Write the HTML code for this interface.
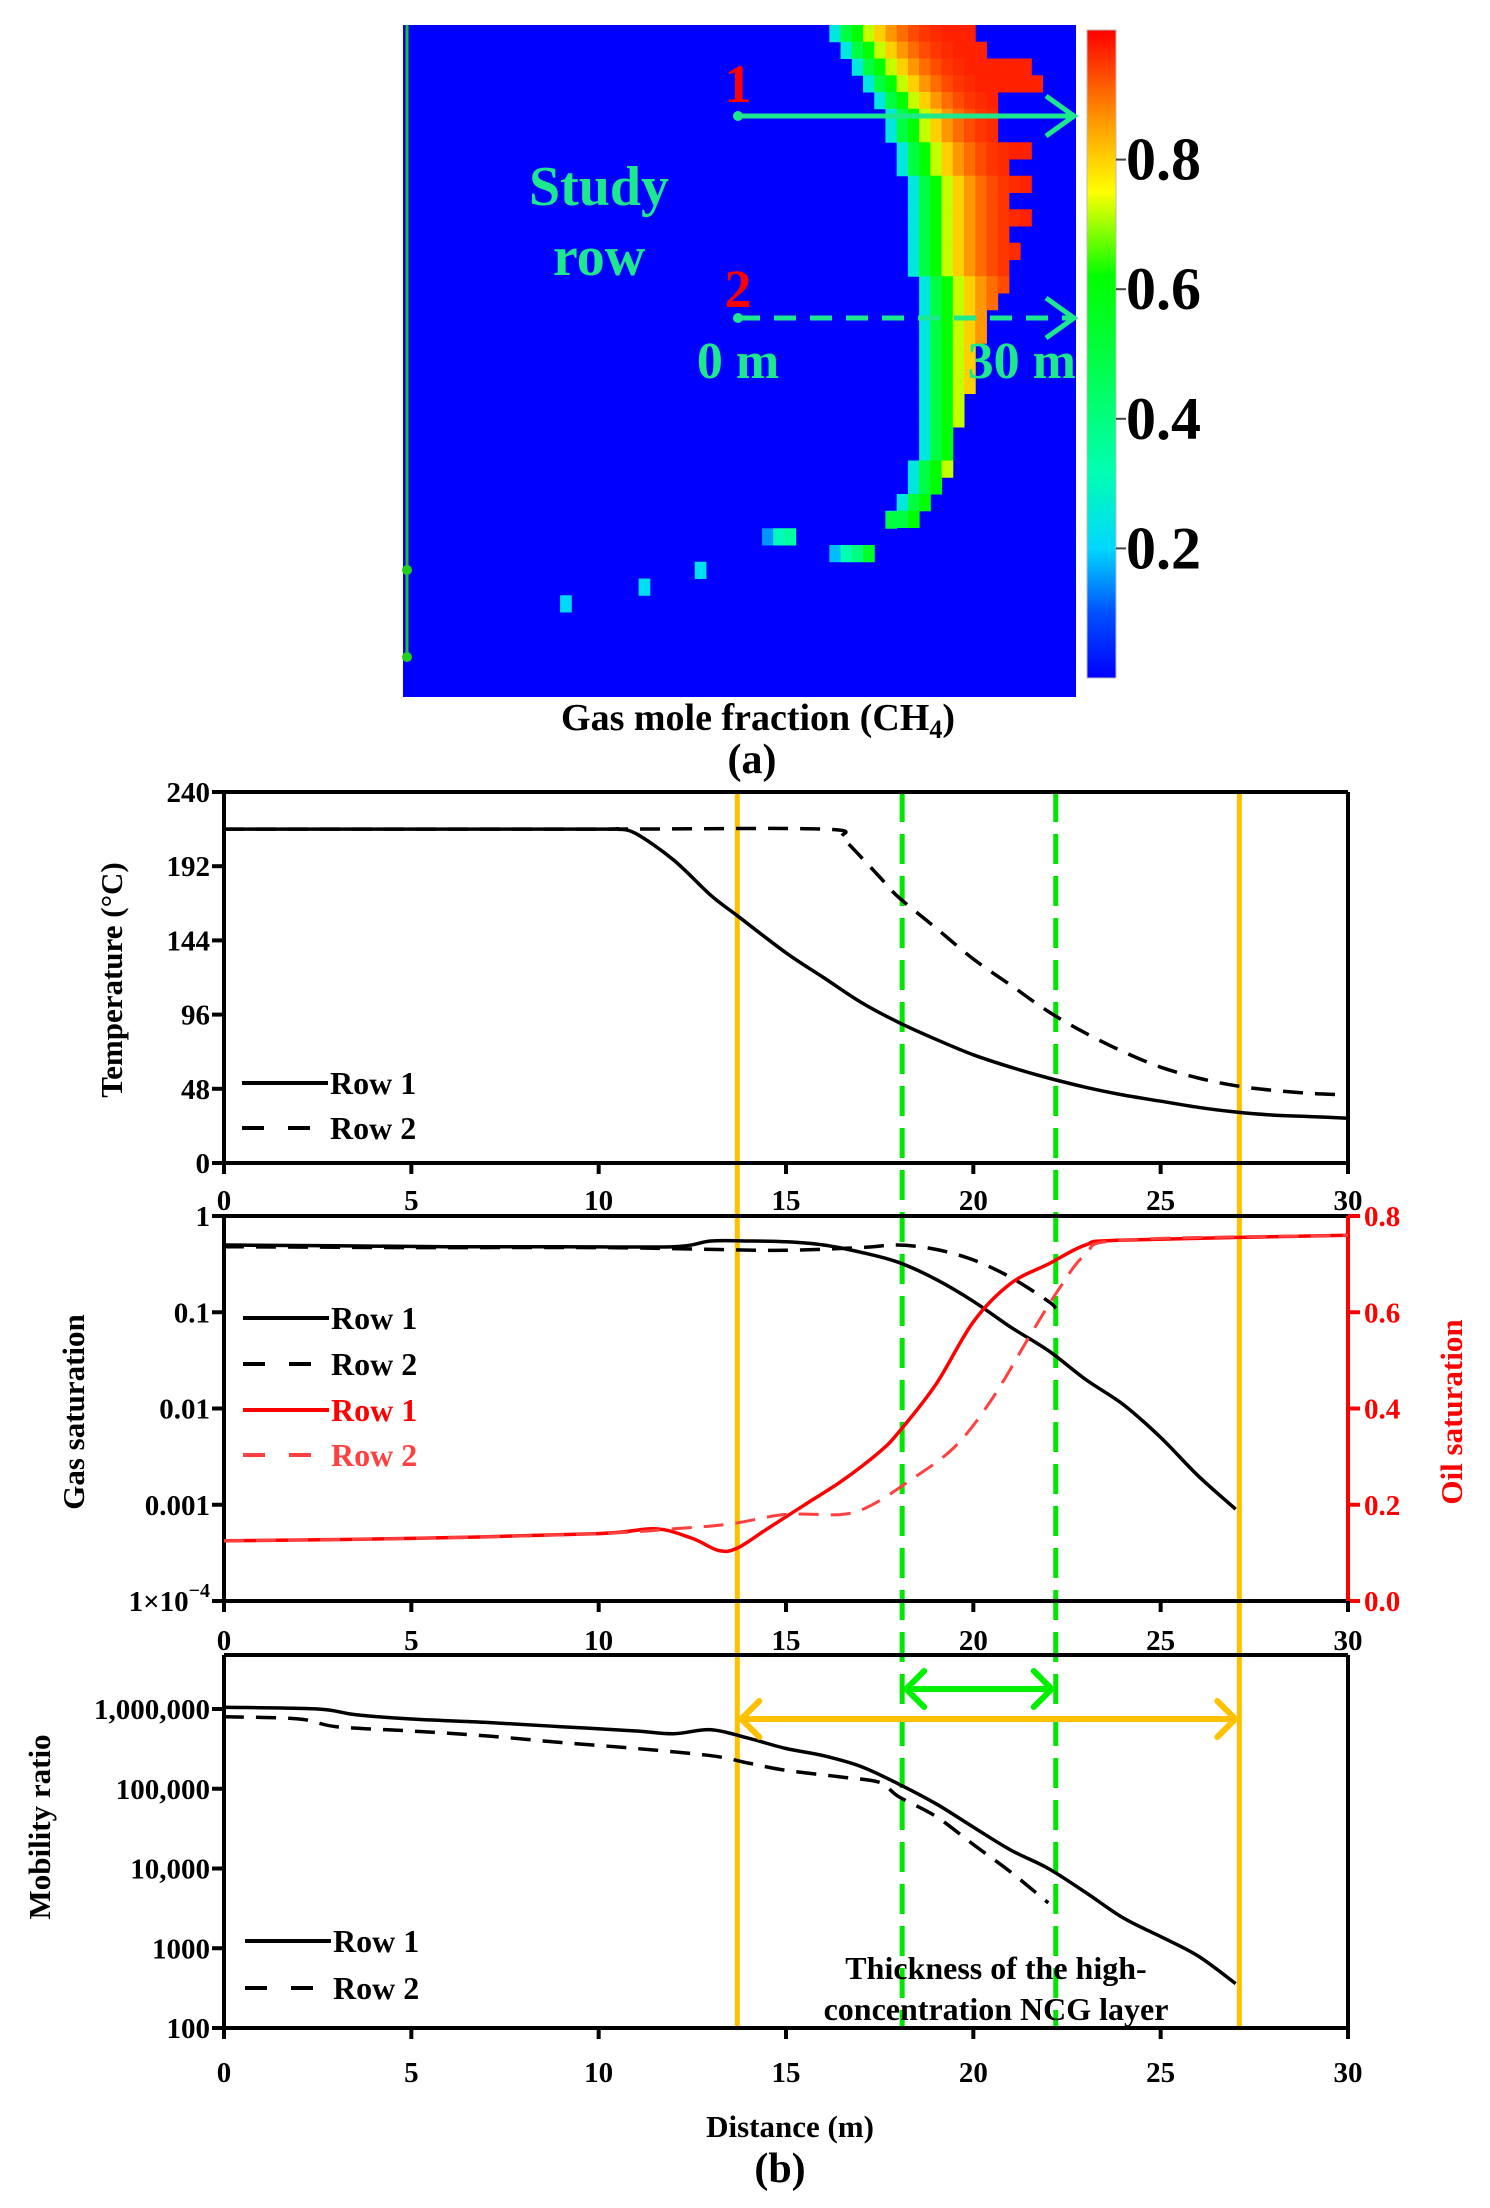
<!DOCTYPE html>
<html><head><meta charset="utf-8"><style>
html,body{margin:0;padding:0;background:#fff;}
svg{display:block;font-family:"Liberation Serif",serif;}
</style></head><body>
<svg id="fig" width="1490" height="2208" viewBox="0 0 1490 2208" xmlns="http://www.w3.org/2000/svg">
<defs>
<linearGradient id="jet" x1="0" y1="1" x2="0" y2="0">
<stop offset="0" stop-color="#0000ff"/><stop offset="0.1" stop-color="#0050ff"/><stop offset="0.2" stop-color="#00d8ff"/><stop offset="0.32" stop-color="#00ffb0"/><stop offset="0.5" stop-color="#00ff40"/><stop offset="0.62" stop-color="#00ff00"/><stop offset="0.75" stop-color="#ffff00"/><stop offset="0.86" stop-color="#ff9800"/><stop offset="1" stop-color="#ff0000"/>
</linearGradient>
</defs>
<g id="panelA"></g>
<g id="panelB"></g>
</svg>
<script>
const NS="http://www.w3.org/2000/svg";
function mk(parent,tag,attrs,text){const e=document.createElementNS(NS,tag);for(const k in attrs)e.setAttribute(k,attrs[k]);if(text!==undefined)e.textContent=text;parent.appendChild(e);return e;}

// ---------- Panel (a) data ----------
const plumeLeft=[825,836,848,859,869,880,881,892,893,903,903,903,912,912,912,921,924,924,924,924,924,924,924,924,924,924,912,912,901,890];
const plumeRight=[977,990,1034,1045,1000,1000,1000,1034,1011,1034,1011,1034,1011,1022,1011,1011,1000,988,988,977,977,977,966,966,955,955,955,943,935,924];
const cellVals=[0.25,0.5,0.62,0.72,0.8,0.86,0.9,0.93,0.95,0.96,0.97];
const scatterRow=[30,31,31,31,32,32,32,32,33,34,35];
const scatterX=[888,766,778,789,833,844,855,866,700,634,556];
const scatterV=[0.5,0.15,0.3,0.35,0.18,0.32,0.4,0.55,0.22,0.22,0.2];
const cbTicks=[0.2,0.4,0.6,0.8];

function jet(v){
  const st=[[0,[0,0,255]],[0.1,[0,80,255]],[0.2,[0,216,255]],[0.32,[0,255,176]],[0.5,[0,255,64]],[0.62,[0,255,0]],[0.75,[255,255,0]],[0.86,[255,152,0]],[1,[255,0,0]]];
  for(let i=1;i<st.length;i++){if(v<=st[i][0]){const a=st[i-1],b=st[i],t=(v-a[0])/(b[0]-a[0]);return 'rgb('+a[1].map((c,j)=>Math.round(c+(b[1][j]-c)*t)).join(',')+')';}}
  return 'rgb(255,0,0)';
}
(function(){
  const g=document.getElementById('panelA');
  const HX=403,HY=25,HW=673,HH=672,CW=11.22,RH=16.75;
  const bg=mk(g,'rect',{x:HX,y:HY,width:HW,height:HH,fill:'#0000ff'});
  
  
  plumeLeft.forEach((L,r)=>{
    const c0=Math.round((L-HX)/CW),c1=Math.round((plumeRight[r]-HX)/CW);
    for(let c=c0;c<c1;c++){
      const k=Math.min(c-c0,cellVals.length-1);
      const cell=mk(g,'rect',{x:HX+c*CW,y:HY+r*RH,width:CW+0.5,height:RH+0.5,fill:jet(cellVals[k])});
      
      
    }
  });
  scatterRow.forEach((r,i)=>{
    const c=Math.round((scatterX[i]-HX)/CW);
    const cell=mk(g,'rect',{x:HX+c*CW,y:HY+r*RH-16,width:CW+0.5,height:RH+0.5,fill:jet(scatterV[i])});
    
    
  });
  const mint='#1ee88e';
  const sl=mk(g,'line',{x1:407,y1:25,x2:407,y2:657,stroke:'#22c01a','stroke-width':3});
  
  
  [570,657].forEach(y=>{const d=mk(g,'circle',{cx:407,cy:y,r:5,fill:'#22d01a'});});
  [[116,null,'row-1-arrow'],[318,'22 14','row-2-arrow']].forEach(a=>{
    const ln=mk(g,'line',{x1:738,y1:a[0],x2:1072,y2:a[0],stroke:mint,'stroke-width':5});
    if(a[1])ln.setAttribute('stroke-dasharray',a[1]);
    
    
    mk(g,'polyline',{points:`1046,${a[0]-20} 1074,${a[0]} 1046,${a[0]+20}`,fill:'none',stroke:mint,'stroke-width':5});
    mk(g,'circle',{cx:738,cy:a[0],r:5,fill:mint});
  });
  const t1=mk(g,'text',{x:738,y:102,'text-anchor':'middle','font-size':54,'font-weight':'bold',fill:'#ff0000'},'1');
  
  const t2=mk(g,'text',{x:738,y:307,'text-anchor':'middle','font-size':54,'font-weight':'bold',fill:'#ff0000'},'2');
  
  const s1=mk(g,'text',{x:599,y:205,'text-anchor':'middle','font-size':56,'font-weight':'bold',fill:mint},'Study');
  
  const s2=mk(g,'text',{x:599,y:275,'text-anchor':'middle','font-size':56,'font-weight':'bold',fill:mint},'row');
  
  const m0=mk(g,'text',{x:738,y:378,'text-anchor':'middle','font-size':52,'font-weight':'bold',fill:mint},'0 m');
  
  const m30=mk(g,'text',{x:1076,y:378,'text-anchor':'end','font-size':52,'font-weight':'bold',fill:mint},'30 m');
  
  const cb=mk(g,'rect',{x:1087,y:30,width:29,height:648,fill:'url(#jet)',stroke:'#bbb','stroke-width':1});
  
  cbTicks.forEach(v=>{
    const y=678-v*648;
    mk(g,'line',{x1:1116,y1:y,x2:1126,y2:y,stroke:'#444','stroke-width':2});
    const t=mk(g,'text',{x:1126,y:y+20,'font-size':60,'font-weight':'bold',fill:'#000'},v.toFixed(1));
    
  });
  const ttl=mk(g,'text',{x:758,y:730,'text-anchor':'middle','font-size':38,'font-weight':'bold',fill:'#000'});
  
  ttl.appendChild(document.createTextNode('Gas mole fraction (CH'));
  mk(ttl,'tspan',{'font-size':26,dy:8},'4');
  mk(ttl,'tspan',{dy:-8},')');
  const la=mk(g,'text',{x:752,y:773,'text-anchor':'middle','font-size':42,'font-weight':'bold',fill:'#000'},'(a)');
  
})();

// ---------- Panel (b) data ----------
const xTicks=[0,5,10,15,20,25,30];
const tempTicks=[0,48,96,144,192,240];
const tempX1=[0,5,10,10.5,11,12,13,13.7,15,16,17,18,19,20,21,22,23,24,25,26,27,28,29,30];
const tempY1=[216,216,216,216,213,196,173,160,136,120,104,91,80,70,62,55,49,44,40,36,33,31,30,29];
const tempX2=[0,10,16,16.5,17,17.5,18,19,20,21,22,23,24,25,26,27,28,29,30];
const tempY2=[216,216,216,210,198,185,172,152,132,115,98,84,72,62,55,50,47,45,44];
const gasTicks=[1,0.1,0.01,0.001,0.0001];
const gasX1=[0,3,6,9,12,13,14,15,16,17,18,19,20,21,22,23,24,25,26,27];
const gasY1=[0.5,0.49,0.48,0.48,0.48,0.55,0.55,0.54,0.5,0.42,0.33,0.22,0.13,0.07,0.04,0.02,0.011,0.005,0.002,0.0009];
const gasX2=[0,5,10,13,15,17,18,19,20,21,22,22.2];
const gasY2=[0.48,0.47,0.47,0.45,0.44,0.47,0.5,0.45,0.35,0.23,0.13,0.11];
const oilTicks=[0,0.2,0.4,0.6,0.8];
const oilX1=[0,5,10,11.5,12.5,13.2,13.7,14.5,15.5,16.5,17.5,18,19,20,21,22,23,24,30];
const oilY1=[0.125,0.13,0.14,0.15,0.13,0.105,0.11,0.15,0.2,0.25,0.31,0.35,0.45,0.58,0.66,0.7,0.74,0.75,0.76];
const oilX2=[0,5,10,12,13.5,15,16.5,17.3,18.3,19.5,20.5,21.5,22.3,23,24,30];
const oilY2=[0.125,0.13,0.14,0.15,0.16,0.18,0.18,0.2,0.25,0.32,0.42,0.55,0.65,0.72,0.75,0.76];
const mobTicks=[100,1000,10000,100000,1000000];
const mobTickLabels=['100','1000','10,000','100,000','1,000,000'];
const mobX1=[0,2.5,3.5,5,7,9,11,12,13,14,15,16,17,18,19,20,21,22,23,24,25,26,27];
const mobY1=[1.05e6,1e6,8.5e5,7.5e5,6.8e5,6e5,5.3e5,4.9e5,5.5e5,4.3e5,3.2e5,2.6e5,1.9e5,1.15e5,6.5e4,3.3e4,1.7e4,1e4,5e3,2.4e3,1.4e3,8e2,3.6e2];
const mobX2=[0,2,3,5,7,9,11,13,14,15,16.5,17.5,18,19,20,21,22];
const mobY2=[8e5,7.5e5,6e5,5.3e5,4.6e5,3.8e5,3.2e5,2.6e5,2.1e5,1.7e5,1.4e5,1.2e5,8e4,4.5e4,2e4,9e3,3.7e3];
const orangeMarks=[13.7,27.1];
const greenMarks=[18.1,22.2];

(function(){
  const g=document.getElementById('panelB');
  const X0=224,X1=1348;
  const sx=x=>X0+(X1-X0)*x/30;
  const T={top:792,bot:1163};const yT=v=>T.bot-(T.bot-T.top)*v/240;
  const M={top:1216,bot:1601};const yG=v=>M.bot-(M.bot-M.top)*(Math.log10(v)+4)/4;const yO=v=>M.bot-(M.bot-M.top)*v/0.8;
  const B={top:1655,bot:2028};const yM=v=>B.bot-(Math.log10(v)-2)*79.75;
  const pathOf=(xs,ys,fy)=>{
    const p=xs.map((x,i)=>[sx(x),fy(ys[i])]);
    let d='M'+p[0][0].toFixed(1)+','+p[0][1].toFixed(1);
    for(let i=0;i<p.length-1;i++){
      const p0=p[Math.max(0,i-1)],p1=p[i],p2=p[i+1],p3=p[Math.min(p.length-1,i+2)];
      const c1x=p1[0]+(p2[0]-p0[0])/6,c1y=p1[1]+(p2[1]-p0[1])/6;
      const c2x=p2[0]-(p3[0]-p1[0])/6,c2y=p2[1]-(p3[1]-p1[1])/6;
      d+=` C${c1x.toFixed(1)},${c1y.toFixed(1)} ${c2x.toFixed(1)},${c2y.toFixed(1)} ${p2[0].toFixed(1)},${p2[1].toFixed(1)}`;
    }
    return d;
  };

  orangeMarks.forEach(x=>{const l=mk(g,'line',{x1:sx(x),y1:T.top,x2:sx(x),y2:B.bot,stroke:'#ffc000','stroke-width':5});});
  greenMarks.forEach(x=>{const l=mk(g,'line',{x1:sx(x),y1:T.top,x2:sx(x),y2:B.bot,stroke:'#00e600','stroke-width':5,'stroke-dasharray':'30 12'});});

  function frame(top,bot,right){
    mk(g,'line',{x1:X0,y1:top,x2:X1,y2:top,stroke:'#000','stroke-width':4});
    mk(g,'line',{x1:X0,y1:bot,x2:X1,y2:bot,stroke:'#000','stroke-width':4});
    mk(g,'line',{x1:X0,y1:top,x2:X0,y2:bot,stroke:'#000','stroke-width':4});
    if(right)mk(g,'line',{x1:X1,y1:top,x2:X1,y2:bot,stroke:right,'stroke-width':4});
  }
  function xAxis(bot,labY){
    xTicks.forEach(v=>{
      mk(g,'line',{x1:sx(v),y1:bot,x2:sx(v),y2:bot+11,stroke:'#000','stroke-width':4});
      const t=mk(g,'text',{x:sx(v),y:labY,'text-anchor':'middle','font-size':29,'font-weight':'bold',fill:'#000'},String(v));
      
    });
  }
  function yTick(y,label,name){
    mk(g,'line',{x1:X0-12,y1:y,x2:X0,y2:y,stroke:'#000','stroke-width':4});
    const t=mk(g,'text',{x:X0-14,y:y+10,'text-anchor':'end','font-size':29,'font-weight':'bold',fill:'#000'},label);
    
    return t;
  }
  function series(d,color,dash,w,name){
    const p=mk(g,'path',{d:d,fill:'none',stroke:color,'stroke-width':w||3.5,'stroke-linejoin':'round'});
    if(dash)p.setAttribute('stroke-dasharray',dash);
    
  }
  function legend(y,color,dash,label,x0,name){
    const l=mk(g,'line',{x1:x0,y1:y,x2:x0+86,y2:y,stroke:color,'stroke-width':4});
    if(dash)l.setAttribute('stroke-dasharray',dash);
    const t=mk(g,'text',{x:x0+88,y:y+11,'font-size':32,'font-weight':'bold',fill:color},label);
    
  }
  function yTitle(x,y,text,color,name){
    const t=mk(g,'text',{x:x,y:y,'text-anchor':'middle','font-size':31,'font-weight':'bold',fill:color,transform:`rotate(-90 ${x} ${y})`},text);
    
  }

  frame(T.top,T.bot,'#000');
  tempTicks.forEach(v=>yTick(yT(v),String(v),'temperature-tick-label'));
  xAxis(T.bot,1210);
  series(pathOf(tempX1,tempY1,yT),'#000',null,3.5,'temperature-row-1');
  series(pathOf(tempX2,tempY2,yT),'#000','20 12',3.5,'temperature-row-2');
  yTitle(122,980,'Temperature (°C)','#000','temperature-axis-title');
  legend(1083,'#000',null,'Row 1',242,'legend-temp-row-1');
  legend(1128,'#000','22 24','Row 2',242,'legend-temp-row-2');

  frame(M.top,M.bot,'#ff0000');
  gasTicks.forEach((v,i)=>{
    const lab=i<4?String(v):'';
    const t=yTick(yG(v),lab,'gas-saturation-tick-label');
    if(i===4){t.appendChild(document.createTextNode('1×10'));mk(t,'tspan',{'font-size':20,dy:-14},'−4');}
  });
  oilTicks.forEach(v=>{
    mk(g,'line',{x1:X1,y1:yO(v),x2:X1+12,y2:yO(v),stroke:'#ff0000','stroke-width':4});
    const t=mk(g,'text',{x:X1+16,y:yO(v)+10,'font-size':29,'font-weight':'bold',fill:'#ff0000'},v.toFixed(1));
    
  });
  xAxis(M.bot,1650);
  series(pathOf(gasX1,gasY1,yG),'#000',null,3.5,'gas-saturation-row-1');
  series(pathOf(gasX2,gasY2,yG),'#000','20 12',3.5,'gas-saturation-row-2');
  series(pathOf(oilX1,oilY1,yO),'#ff0000',null,3.5,'oil-saturation-row-1');
  series(pathOf(oilX2,oilY2,yO),'#ff4040','20 12',3,'oil-saturation-row-2');
  yTitle(84,1412,'Gas saturation','#000','gas-saturation-axis-title');
  yTitle(1462,1412,'Oil saturation','#ff0000','oil-saturation-axis-title');
  legend(1318,'#000',null,'Row 1',243,'legend-gas-row-1');
  legend(1364,'#000','22 24','Row 2',243,'legend-gas-row-2');
  legend(1410,'#ff0000',null,'Row 1',243,'legend-oil-row-1');
  legend(1455,'#ff4040','22 24','Row 2',243,'legend-oil-row-2');

  frame(B.top,B.bot,'#000');
  mobTicks.forEach((v,i)=>yTick(yM(v),mobTickLabels[i],'mobility-tick-label'));
  xAxis(B.bot,2082);
  series(pathOf(mobX1,mobY1,yM),'#000',null,3.5,'mobility-row-1');
  series(pathOf(mobX2,mobY2,yM),'#000','20 12',3.5,'mobility-row-2');
  yTitle(50,1827,'Mobility ratio','#000','mobility-axis-title');
  legend(1941,'#000',null,'Row 1',245,'legend-mob-row-1');
  legend(1988,'#000','22 24','Row 2',245,'legend-mob-row-2');

  function dArrow(xa,xb,y,color,name){
    const a=sx(xa)+4,b=sx(xb)-4;
    const l=mk(g,'line',{x1:a,y1:y,x2:b,y2:y,stroke:color,'stroke-width':6});
    
    mk(g,'polyline',{points:`${a+18},${y-18} ${a},${y} ${a+18},${y+18}`,fill:'none',stroke:color,'stroke-width':6,'stroke-linecap':'round'});
    mk(g,'polyline',{points:`${b-18},${y-18} ${b},${y} ${b-18},${y+18}`,fill:'none',stroke:color,'stroke-width':6,'stroke-linecap':'round'});
  }
  dArrow(orangeMarks[0],orangeMarks[1],1719,'#ffc000','ncg-layer-thickness-arrow');
  dArrow(greenMarks[0],greenMarks[1],1689,'#00f000','high-concentration-thickness-arrow');
  const a1=mk(g,'text',{x:996,y:1979,'text-anchor':'middle','font-size':32,'font-weight':'bold',fill:'#000'},'Thickness of the high-');
  
  const a2=mk(g,'text',{x:996,y:2020,'text-anchor':'middle','font-size':32,'font-weight':'bold',fill:'#000'},'concentration NCG layer');
  
  const xt=mk(g,'text',{x:790,y:2137,'text-anchor':'middle','font-size':31,'font-weight':'bold',fill:'#000'},'Distance (m)');
  
  const lb=mk(g,'text',{x:780,y:2182,'text-anchor':'middle','font-size':42,'font-weight':'bold',fill:'#000'},'(b)');
  
})();
</script>
</body></html>
